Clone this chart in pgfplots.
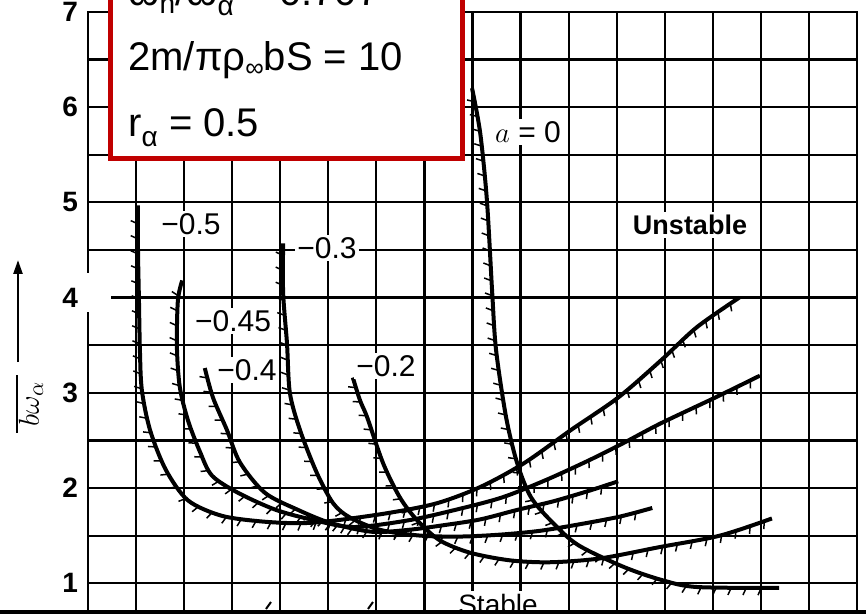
\documentclass[border=0pt]{standalone}
\usepackage{pgfplots}
\pgfplotsset{compat=1.18}
\usepackage{fontspec}
\setmainfont{Liberation Sans}
\usetikzlibrary{decorations.markings, arrows.meta}
\definecolor{boxred}{RGB}{192,0,0}

% flutter boundary with hatching on the stable side
\tikzset{boundary/.style={black, line width=2pt, smooth, tension=0.5,
  postaction={decorate},
  decoration={markings,
    mark=between positions 0.02 and 0.99 step 7.5pt with
      {\pgfsetlinewidth{0.75pt}%
       \pgfpathmoveto{\pgfpointorigin}%
       \pgfpathlineto{\pgfpoint{-1.6pt}{-3.6pt}}%
       \pgfusepath{stroke}}}}}

\begin{document}
\begin{tikzpicture}
\useasboundingbox (0,0) rectangle (433pt,-307pt);
\clip (0,0) rectangle (433pt,-307pt);
\begin{axis}[
  at={(44pt,-6pt)}, anchor=north west,
  scale only axis, width=384.5pt, height=309.4pt,
  xmin=0, xmax=16, ymin=0.5, ymax=7,
  xtick={0,1,...,16}, xticklabels={},
  ytick={1,2,...,7},
  minor ytick={0.5,1.5,...,6.5},
  grid=both,
  major grid style={black, line width=1.1pt},
  minor grid style={black, line width=1.1pt},
  axis line style={black, line width=1.3pt},
  major tick length=0pt, minor tick length=0pt,
  /pgf/number format/assume math mode=true,
  yticklabel style={font=\fontsize{14}{14}\selectfont\bfseries, xshift=-1.5pt},
]
% a = -0.5
\addplot[boundary] coordinates {
 (1.04,4.97) (1.04,4.50) (1.06,3.97) (1.08,3.45) (1.12,3.03) (1.29,2.61)
 (1.62,2.19) (2.08,1.87) (2.77,1.71) (3.58,1.65) (4.41,1.63) (5.16,1.66)
 (6.28,1.74) (7.26,1.84) (8.16,2.01) (9.07,2.26) (10.05,2.61) (11.03,2.95)
 (11.92,3.34) (12.67,3.69) (13.55,4.00)};
% a = -0.45
\addplot[boundary] coordinates {
 (1.96,4.18) (1.87,3.97) (1.85,3.48) (1.91,3.06) (2.08,2.71) (2.33,2.38)
 (2.58,2.13) (3.12,1.95) (3.91,1.77) (4.72,1.66) (5.53,1.59) (6.66,1.66)
 (7.64,1.77) (8.61,1.90) (9.51,2.08) (10.42,2.29) (11.17,2.48) (11.92,2.68)
 (13.05,2.95) (13.98,3.18)};
% a = -0.4
\addplot[boundary] coordinates {
 (2.43,3.26) (2.60,2.95) (2.89,2.61) (3.16,2.27) (3.68,1.95) (4.37,1.77)
 (5.06,1.63) (5.91,1.54) (6.66,1.56) (7.41,1.61) (8.16,1.67) (8.93,1.77)
 (9.68,1.86) (10.42,1.97) (11.03,2.07)};
% a = -0.3
\addplot[boundary] coordinates {
 (4.06,4.57) (4.06,4.05) (4.14,3.52) (4.20,3.00) (4.41,2.61) (4.76,2.16)
 (5.10,1.84) (5.45,1.69) (6.08,1.56) (6.91,1.50) (7.74,1.49) (8.57,1.51)
 (9.40,1.55) (10.24,1.62) (11.07,1.70) (11.74,1.79)};
% a = -0.2
\addplot[boundary] coordinates {
 (5.51,3.16) (5.66,2.92) (5.81,2.74) (6.14,2.26) (6.49,1.90) (6.85,1.66)
 (7.32,1.45) (7.95,1.32) (8.78,1.24) (9.61,1.22) (10.65,1.26) (11.90,1.38)
 (13.15,1.50) (14.23,1.68)};
% a = 0
\addplot[boundary] coordinates {
 (7.99,6.20) (8.16,5.73) (8.30,5.02) (8.41,4.05) (8.49,3.45) (8.70,2.74)
 (8.93,2.26) (9.22,1.90) (9.68,1.63) (10.20,1.40) (11.15,1.17) (11.96,1.03)
 (12.67,0.96) (14.38,0.95)};
\end{axis}

\begin{scope}[x=0.5pt, y=-0.5pt]
% patch over the axis near the 4 label
\fill[white] (80,273) rectangle (111,312);

% curve labels
\tikzset{lab/.style={fill=white, inner sep=1.2pt, font=\fontsize{15}{15}\selectfont}}
\node[lab] at (191,224) {−0.5};
\node[lab] at (327,248) {−0.3};
\node[lab] at (233,321) {−0.45};
\node[lab] at (247,370) {−0.4};
\node[lab] at (386,366) {−0.2};
\node[lab] at (528,132) {$a$ = 0};
\node[fill=white, inner sep=1.5pt, font=\fontsize{13.5}{13.5}\selectfont\bfseries] at (690,225) {Unstable};
\node[fill=white, inner sep=1.5pt, anchor=base, font=\fontsize{14}{14}\selectfont] at (498,614) {Stable};

% ordinate label
\draw[line width=1.2pt, -{Triangle[length=7pt, width=4.5pt]}] (18,362) -- (18,260);
\draw[line width=1.2pt] (17,375) -- (17,433);
\node[rotate=90, font=\fontsize{15}{15}\selectfont] at (31,404) {$b\omega_\alpha$};

% strip along the lower edge
\fill[black] (0,610) rectangle (866,620);
\draw[line width=1pt] (266,609) -- (271,602);
\draw[line width=1pt] (368,609) -- (373,602);

% parameter box
\draw[draw=boxred, line width=2.5pt, fill=white] (110,-20) rectangle (462,159);
\node[anchor=base west, inner sep=0, font=\fontsize{20}{20}\selectfont] at (128,6)
  {ω\raisebox{-4pt}{\fontsize{14}{14}\selectfont h}/ω\raisebox{-5pt}{\fontsize{14}{14}\selectfont α} = 0.707};
\node[anchor=base west, inner sep=0, font=\fontsize{20}{20}\selectfont] at (128,71)
  {2m/πρ\raisebox{-3pt}{\fontsize{13}{13}\selectfont ∞}bS = 10};
\node[anchor=base west, inner sep=0, font=\fontsize{20}{20}\selectfont] at (128,137)
  {r\raisebox{-5pt}{\fontsize{14}{14}\selectfont α} = 0.5};
\end{scope}
\end{tikzpicture}
\end{document}
